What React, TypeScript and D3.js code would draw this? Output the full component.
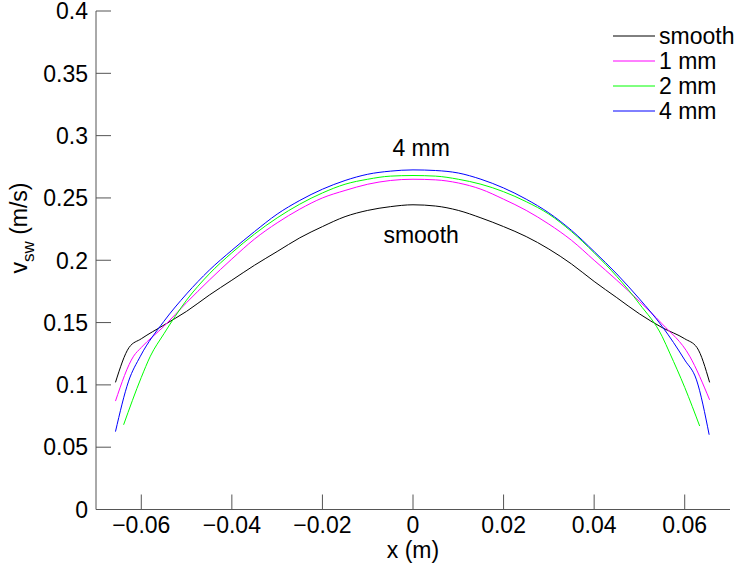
import React from "react";
import * as d3 from "d3";

// values
const smoothX = [-0.0657, -0.0627, -0.06, -0.055, -0.05, -0.045, -0.04, -0.035, -0.03, -0.025, -0.02, -0.015, -0.01, -0.005, 0, 0.005, 0.01, 0.015, 0.02, 0.025, 0.03, 0.035, 0.04, 0.045, 0.05, 0.055, 0.06, 0.0627, 0.0655];
const smoothY = [0.102, 0.130, 0.137, 0.148, 0.159, 0.172, 0.184, 0.196, 0.207, 0.218, 0.227, 0.235, 0.240, 0.243, 0.2445, 0.2435, 0.240, 0.234, 0.227, 0.219, 0.209, 0.197, 0.183, 0.170, 0.157, 0.146, 0.137, 0.130, 0.102];

const mm1X = [-0.0657, -0.0617, -0.06, -0.055, -0.05, -0.045, -0.04, -0.035, -0.03, -0.025, -0.02, -0.015, -0.01, -0.005, 0, 0.005, 0.01, 0.015, 0.02, 0.025, 0.03, 0.035, 0.04, 0.045, 0.05, 0.055, 0.0611, 0.0655];
const mm1Y = [0.087, 0.123, 0.130, 0.147, 0.166, 0.184, 0.201, 0.217, 0.230, 0.241, 0.250, 0.256, 0.261, 0.264, 0.265, 0.2645, 0.262, 0.257, 0.249, 0.240, 0.229, 0.216, 0.200, 0.184, 0.167, 0.149, 0.123, 0.088];

const mm2X = [-0.0639, -0.06, -0.058, -0.055, -0.05, -0.045, -0.04, -0.035, -0.03, -0.025, -0.02, -0.015, -0.01, -0.005, 0, 0.005, 0.01, 0.015, 0.02, 0.025, 0.03, 0.035, 0.04, 0.045, 0.05, 0.055, 0.0567, 0.06, 0.0633];
const mm2Y = [0.068, 0.106, 0.123, 0.141, 0.168, 0.189, 0.206, 0.221, 0.234, 0.245, 0.254, 0.261, 0.265, 0.2675, 0.268, 0.2675, 0.265, 0.261, 0.255, 0.247, 0.237, 0.223, 0.206, 0.187, 0.165, 0.139, 0.1255, 0.098, 0.067];

const mm4X = [-0.0657, -0.0628, -0.0602, -0.055, -0.05, -0.045, -0.04, -0.035, -0.03, -0.025, -0.02, -0.015, -0.01, -0.005, 0, 0.005, 0.01, 0.015, 0.02, 0.025, 0.03, 0.035, 0.04, 0.045, 0.05, 0.055, 0.06, 0.0626, 0.0654];
const mm4Y = [0.0625, 0.103, 0.123, 0.151, 0.173, 0.192, 0.208, 0.223, 0.237, 0.248, 0.257, 0.264, 0.269, 0.2715, 0.2725, 0.272, 0.270, 0.265, 0.258, 0.249, 0.238, 0.224, 0.207, 0.189, 0.169, 0.147, 0.120, 0.104, 0.060];

const seriesNames = ["smooth", "1 mm", "2 mm", "4 mm"];
const seriesColors = ["#000000", "#ff00ff", "#00ff00", "#0000ff"];
const seriesX = [smoothX, mm1X, mm2X, mm4X];
const seriesY = [smoothY, mm1Y, mm2Y, mm4Y];

const xTicks = [-0.06, -0.04, -0.02, 0, 0.02, 0.04, 0.06];
const yTicks = [0, 0.05, 0.1, 0.15, 0.2, 0.25, 0.3, 0.35, 0.4];

const W = 747;
const H = 567;
const font = "'Liberation Sans', Arial, Helvetica, sans-serif";

export default function App() {
  const x = d3.scaleLinear().domain([-0.07, 0.07]).range([96, 730]);
  const y = d3.scaleLinear().domain([0, 0.4]).range([509.5, 11]);
  const line = d3
    .line<[number, number]>()
    .x((d) => x(d[0]))
    .y((d) => y(d[1]))
    .curve(d3.curveMonotoneX);

  const fmtX = (v: number) => (v < 0 ? "\u2212" + String(-v) : String(v));
  const axisColor = "#555";

  return (
    <svg
      width={W}
      height={H}
      style={{ position: "absolute", left: 0, top: 0, background: "#fff" }}
      fontFamily={font}
    >
      {/* curves */}
      {seriesX.map((xs, i) => (
        <path
          key={seriesNames[i]}
          d={line(xs.map((v, j) => [v, seriesY[i][j]] as [number, number])) || ""}
          fill="none"
          stroke={seriesColors[i]}
          strokeWidth={1}
        />
      ))}

      {/* axes */}
      <line x1={x(-0.07)} x2={x(0.07)} y1={y(0)} y2={y(0)} stroke={axisColor} />
      <line x1={x(-0.07)} x2={x(-0.07)} y1={y(0)} y2={y(0.4)} stroke={axisColor} />
      {yTicks.map((t) => (
        <g key={"y" + t}>
          <line x1={x(-0.07)} x2={x(-0.07) + 15} y1={y(t)} y2={y(t)} stroke={axisColor} />
          <text x={88} y={y(t)} dy="0.36em" textAnchor="end" fontSize={23} fill="#000">
            {String(t)}
          </text>
        </g>
      ))}
      {xTicks.map((t) => (
        <g key={"x" + t}>
          <line x1={x(t)} x2={x(t)} y1={y(0)} y2={y(0) - 15} stroke={axisColor} />
          <text x={x(t)} y={533} textAnchor="middle" fontSize={23} fill="#000">
            {fmtX(t)}
          </text>
        </g>
      ))}

      {/* axis titles */}
      <text x={x(0)} y={558} textAnchor="middle" fontSize={23} fill="#000">
        x (m)
      </text>
      <text
        transform="translate(27,228) rotate(-90)"
        textAnchor="middle"
        fontSize={23}
        fill="#000"
      >
        v
        <tspan fontSize={17} dy={7}>sw</tspan>
        <tspan dy={-7}>{"\u00a0(m/s)"}</tspan>
      </text>

      {/* annotations */}
      <text x={x(0.0018)} y={y(0.2745) - 11} textAnchor="middle" fontSize={23} fill="#000">
        4 mm
      </text>
      <text x={x(0.0018)} y={y(0.2145) + 1} textAnchor="middle" fontSize={23} fill="#000">
        smooth
      </text>

      {/* legend */}
      {seriesNames.map((n, i) => (
        <g key={"leg" + n} transform={`translate(0,${36 + i * 25})`}>
          <line x1={613} x2={655} y1={0} y2={0} stroke={seriesColors[i]} />
          <text x={659} y={0} dy="0.36em" fontSize={23} fill="#000">
            {n}
          </text>
        </g>
      ))}
    </svg>
  );
}
